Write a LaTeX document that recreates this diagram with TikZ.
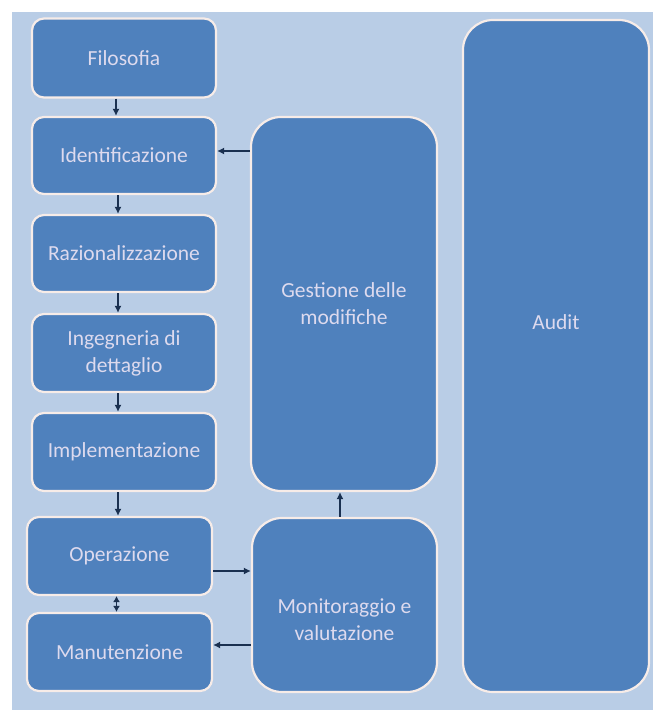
\documentclass[tikz,border=0pt]{standalone}
\usepackage{fontspec}
\setmainfont{Carlito}
\usetikzlibrary{arrows.meta}
\definecolor{bgpanel}{HTML}{B9CDE6}
\definecolor{boxfill}{HTML}{4F81BD}
\definecolor{boxedge}{HTML}{F7ECE8}
\definecolor{txt}{HTML}{DDDAEE}
\definecolor{arr}{HTML}{1A3050}
\tikzset{
  box/.style={draw=boxedge, line width=2.2pt, fill=boxfill, rounded corners=12pt, inner sep=0pt},
  bigbox/.style={box, rounded corners=30pt},
  lbl/.style={text=txt, font=\fontsize{21.5}{27}\selectfont, align=center},
  conn/.style={draw=arr, line width=1.6pt, -{Latex[length=7pt,width=7pt]}},
  conn2/.style={draw=arr, line width=1.6pt, {Latex[length=6pt,width=7pt]}-{Latex[length=6pt,width=7pt]}}
}
\begin{document}
\begin{tikzpicture}[x=1pt,y=-1pt]
\useasboundingbox (0,0) rectangle (653,710);
\fill[white] (0,0) rectangle (653,710);
\fill[bgpanel] (12,12) rectangle (653,710);
% left column
\node[box, minimum width=184pt, minimum height=79pt] (filo) at (124,58) {};
\node[box, minimum width=184pt, minimum height=77pt] (iden) at (124,155.5) {};
\node[box, minimum width=184pt, minimum height=77pt] (razi) at (124,253.5) {};
\node[box, minimum width=184pt, minimum height=78pt] (inge) at (124,353) {};
\node[box, minimum width=184pt, minimum height=78pt] (impl) at (124,452) {};
\node[box, minimum width=185pt, minimum height=78pt] (oper) at (119.5,556) {};
\node[box, minimum width=185pt, minimum height=78pt] (manu) at (119.5,652) {};
% middle and right
\node[bigbox, minimum width=186pt, minimum height=374pt] (gest) at (344,304) {};
\node[bigbox, minimum width=185pt, minimum height=174pt] (moni) at (344.5,605) {};
\node[bigbox, minimum width=186pt, minimum height=672pt] (audit) at (556,356) {};
% texts
\node[lbl] (tfilo) at (filo) {Filosofia};
\node[lbl] (tiden) at (iden) {Identificazione};
\node[lbl] (trazi) at (razi) {Razionalizzazione};
\node[lbl] (tinge) at (inge) {Ingegneria di\\dettaglio};
\node[lbl] (timpl) at (impl) {Implementazione};
\node[lbl] (toper) at (oper) {Operazione};
\node[lbl] (tmanu) at (manu) {Manutenzione};
\node[lbl] (tgest) at (gest) {Gestione delle\\modifiche};
\node[lbl] (tmoni) at (344.5,620) {Monitoraggio e\\valutazione};
\node[lbl] (taudit) at (556,322) {Audit};
% connectors
\draw[conn] ([xshift=-8pt]filo.south) -- ([xshift=-8pt]iden.north);
\draw[conn] ([xshift=-6pt]iden.south) -- ([xshift=-6pt]razi.north);
\draw[conn] ([xshift=-6pt]razi.south) -- ([xshift=-6pt]inge.north);
\draw[conn] ([xshift=-6pt]inge.south) -- ([xshift=-6pt]impl.north);
\draw[conn] ([xshift=-6pt]impl.south) -- ([xshift=-6pt]impl.south |- oper.north);
\draw[conn2] ([xshift=-3pt]oper.south) -- ([xshift=-3pt]manu.north);
\draw[conn] (oper.east |- 0,571) -- (moni.west |- 0,571);
\draw[conn] (moni.west |- 0,645) -- (manu.east |- 0,645);
\draw[conn] (moni.north -| 340,0) -- (gest.south -| 340,0);
\draw[conn] (gest.west |- 0,151) -- (iden.east |- 0,151);
\end{tikzpicture}
\end{document}
